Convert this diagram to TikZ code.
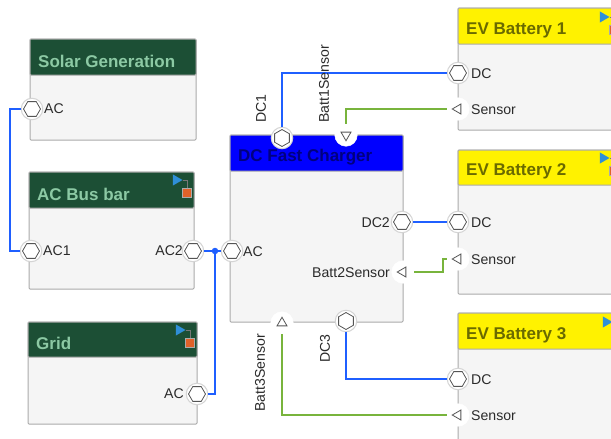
\documentclass[tikz,border=0pt]{standalone}
\usepackage{fontspec}
\setmainfont{Liberation Sans}
\usetikzlibrary{shapes.geometric}
\definecolor{bodyfill}{HTML}{F5F5F5}
\definecolor{edgegray}{HTML}{ABABAB}
\definecolor{halo}{HTML}{D4D4D4}
\definecolor{darkgreen}{HTML}{1C4F35}
\definecolor{mint}{HTML}{8CC9A4}
\definecolor{olive}{HTML}{6A6A00}
\definecolor{navy}{HTML}{00007F}
\definecolor{wireblue}{HTML}{1F5FFF}
\definecolor{wiregreen}{HTML}{78B43C}
\definecolor{portline}{HTML}{555555}
\definecolor{txt}{HTML}{2A2A2A}
\definecolor{tipblue}{HTML}{2F8FD8}
\definecolor{tiporange}{HTML}{E0622A}
\tikzset{
  x=1pt,y=-1pt,
  bodybox/.style={draw=edgegray,line width=1pt,fill=bodyfill,rounded corners=1pt,inner sep=0pt,outer sep=0pt,anchor=north west},
  headbox/.style={draw=edgegray,line width=1pt,rounded corners=1pt,inner sep=0pt,outer sep=0pt,anchor=north west},
  headtext/.style={anchor=west,inner sep=0pt,font=\bfseries\fontsize{17}{19}\selectfont},
  hexhalo/.style={circle,draw=halo,line width=1pt,fill=white,minimum size=21.5pt,inner sep=0pt,outer sep=0pt},
  trihalo/.style={circle,draw=white,line width=.5pt,fill=white,minimum size=22.5pt,inner sep=0pt,outer sep=0pt},
  hexmark/.style={regular polygon,regular polygon sides=6,draw=portline,line width=.8pt,fill=white,minimum size=17pt,inner sep=0pt},
  trimark/.style={regular polygon,regular polygon sides=3,draw=portline,line width=.8pt,fill=white,minimum size=11.5pt,inner sep=0pt},
  portlabel/.style={inner sep=0pt,text=txt,font=\fontsize{14.1}{16}\selectfont},
  bluewire/.style={draw=wireblue,line width=1.25pt},
  greenwire/.style={draw=wiregreen,line width=1.25pt},
  junction/.style={circle,fill=wireblue,minimum size=6.5pt,inner sep=0pt},
  tiptri/.style={regular polygon,regular polygon sides=3,shape border rotate=-90,fill=tipblue,minimum size=13pt,inner sep=0pt},
  tipsq/.style={rectangle,fill=tiporange,draw=edgegray,line width=.4pt,minimum size=9pt,inner sep=0pt}
}
% name, x1, y1, x2, y2, ymid, header fill, text colour, title
\newcommand{\blockbox}[9]{%
  \node[bodybox,minimum width=#4pt-#2pt,minimum height=#5pt-#3pt] (#1) at (#2,#3) {};
  \node[headbox,fill=#7,minimum width=#4pt-#2pt,minimum height=#6pt-#3pt] (#1h) at (#2,#3) {};
  \node[headtext,text=#8] (#1t) at (#2+8,#3+0.5*#6-0.5*#3+4) {#9};
}
% name, x, y, border rotation of the hexagon
\newcommand{\hexport}[4]{%
  \node[hexhalo] (#1) at (#2,#3) {};
  \node[hexmark,shape border rotate=#4] (#1m) at (#2,#3) {};
}
% name, x, y, border rotation
\newcommand{\triport}[4]{%
  \node[trihalo] (#1) at (#2,#3) {};
  \node[trimark,shape border rotate=#4] (#1m) at (#2,#3) {};
}
\newcommand{\tipicon}[3]{%
  \node[tiptri] (#1a) at (#2,#3) {};
  \node[tipsq] (#1b) at (#2+11,#3+12.5) {};
  \draw[edgegray!70!black,line width=.4pt] (#1a.east) -| (#1b.north);
}
\begin{document}
\begin{tikzpicture}
\clip (0,0) rectangle (611,439);
\fill[white] (0,0) rectangle (611,439);
% blocks
\blockbox{solar}{30}{39}{196}{140}{75}{darkgreen}{mint}{Solar Generation}
\blockbox{bus}{29}{172}{194}{289}{208}{darkgreen}{mint}{AC Bus bar}
\blockbox{grid}{28}{322}{197}{424}{357}{darkgreen}{mint}{Grid}
\blockbox{charger}{230}{135}{403}{322}{171}{blue}{navy}{DC Fast Charger}
\blockbox{evone}{458}{8}{640}{130}{44}{yellow}{olive}{EV Battery 1}
\blockbox{evtwo}{458}{150}{640}{294}{185}{yellow}{olive}{EV Battery 2}
\blockbox{evthree}{458}{313}{640}{470}{349}{yellow}{olive}{EV Battery 3}
% corner icons
\tipicon{ibus}{176}{180}
\tipicon{igrid}{179}{330}
\tipicon{ione}{603}{17}
\tipicon{itwo}{603}{158}
\node[tiptri] (ithree) at (606,322) {};
% ports
\hexport{solarac}{32}{109}{0}
\hexport{busacone}{31}{251}{0}
\hexport{busactwo}{193}{251}{0}
\hexport{gridac}{197}{394}{0}
\hexport{chac}{232}{251}{0}
\hexport{chdcone}{282}{138}{30}
\triport{chsone}{346}{135}{180}
\hexport{chdctwo}{402}{222}{0}
\triport{chstwo}{403}{272}{90}
\triport{chsthree}{282}{323}{0}
\hexport{chdcthree}{346}{321}{30}
\hexport{oned}{458}{73}{0}
\triport{ones}{458}{109}{90}
\hexport{twod}{458}{222}{0}
\triport{twos}{458}{259}{90}
\hexport{threed}{458}{379}{0}
\triport{threes}{458}{415}{90}
% junction and routing points
\coordinate (solarbend) at (10,109);
\coordinate (acbend) at (10,251);
\node[junction] (acjoin) at (215,251) {};
\coordinate (batttwoa) at (443,272);
\coordinate (batttwob) at (443,259);
% connectors
\draw[bluewire] (solarac.west) -- (solarbend) -- (acbend) -- (busacone.west);
\draw[bluewire] (busactwo.east) -- (acjoin) -- (chac.west);
\draw[bluewire] (gridac.east) -| (acjoin);
\draw[bluewire] (chdcone.north) |- (oned.west);
\draw[greenwire] (chsone.north) |- (ones.west);
\draw[bluewire] (chdctwo.east) -- (twod.west);
\draw[greenwire] (chstwo.east) -- (batttwoa) -- (batttwob) -- (twos.west);
\draw[bluewire] (chdcthree.south) |- (threed.west);
\draw[greenwire] (chsthree.south) |- (threes.west);
% port labels
\node[portlabel,anchor=west] (l1) at (44,109) {AC};
\node[portlabel,anchor=west] (l2) at (43,251) {AC1};
\node[portlabel,anchor=east] (l3) at (183,251) {AC2};
\node[portlabel,anchor=east] (l4) at (184,394) {AC};
\node[portlabel,anchor=west] (l5) at (243,251.5) {AC};
\node[portlabel,anchor=east] (l6) at (390,222.5) {DC2};
\node[portlabel,anchor=east] (l7) at (390,273) {Batt2Sensor};
\node[portlabel,anchor=west] (l8) at (471,73.5) {DC};
\node[portlabel,anchor=west] (l9) at (471,109.5) {Sensor};
\node[portlabel,anchor=west] (l10) at (471,222.5) {DC};
\node[portlabel,anchor=west] (l11) at (471,259.5) {Sensor};
\node[portlabel,anchor=west] (l12) at (471,379.5) {DC};
\node[portlabel,anchor=west] (l13) at (471,415.5) {Sensor};
\node[portlabel,rotate=90,anchor=west] (l14) at (261,123) {DC1};
\node[portlabel,rotate=90,anchor=west] (l15) at (324,123) {Batt1Sensor};
\node[portlabel,rotate=90,anchor=east] (l16) at (260,334) {Batt3Sensor};
\node[portlabel,rotate=90,anchor=east] (l17) at (325,334) {DC3};
\end{tikzpicture}
\end{document}
